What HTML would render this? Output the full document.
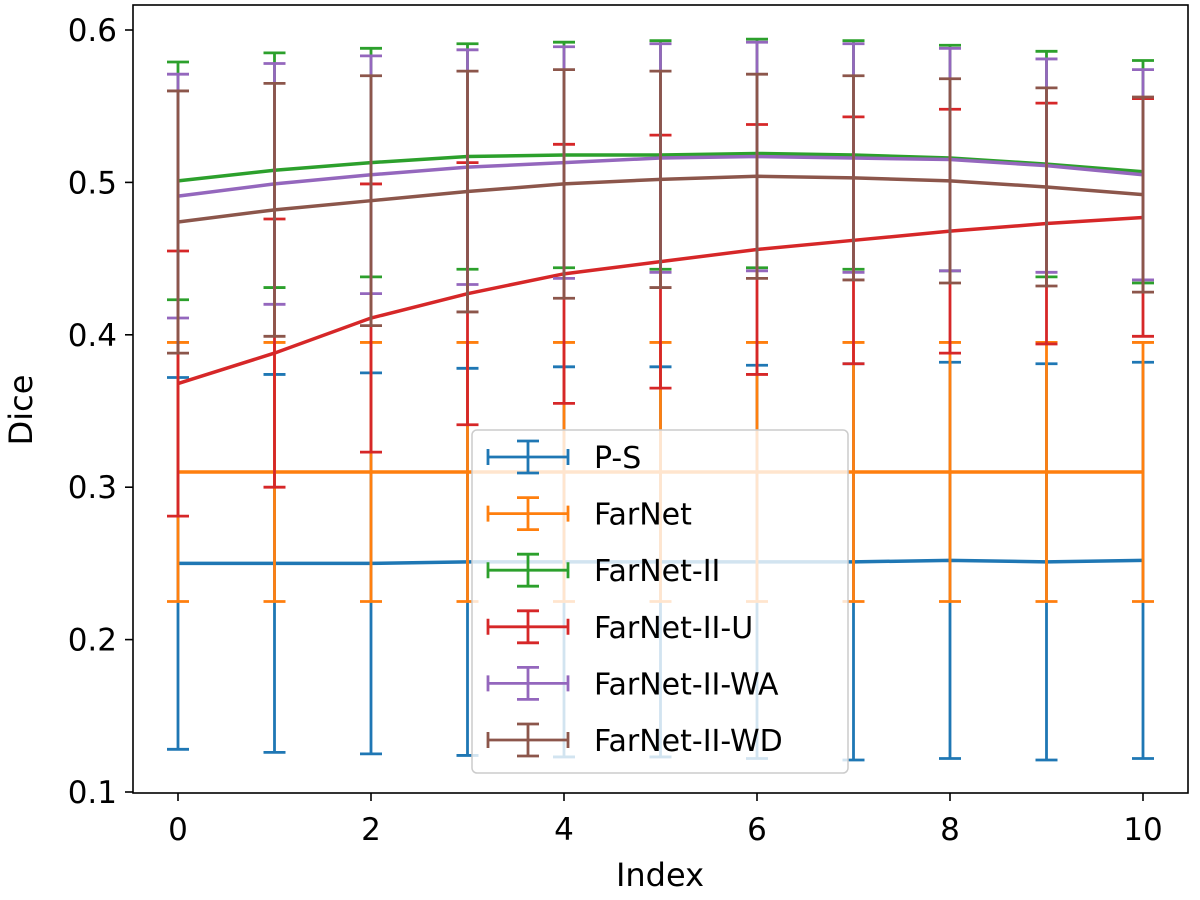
<!DOCTYPE html>
<html><head><meta charset="utf-8"><style>
html,body{margin:0;padding:0;background:#fff;}
svg text{font-family:"DejaVu Sans","Liberation Sans",sans-serif;fill:#000;}
</style></head><body>
<svg id="chart" width="1200" height="895" viewBox="0 0 1200 895" xmlns="http://www.w3.org/2000/svg">
<g id="marks"></g>
<rect x="133" y="5" width="1055" height="788" fill="none" stroke="#000" stroke-width="1.6"/>
<g id="axes"></g>
<text x="660" y="886" font-size="32" text-anchor="middle">Index</text>
<text transform="translate(32,410) rotate(-90)" font-size="32" text-anchor="middle">Dice</text>
<g id="legend"></g>
</svg>
<script>
const xIndex=[0,1,2,3,4,5,6,7,8,9,10];
const seriesNames=["P-S","FarNet","FarNet-II","FarNet-II-U","FarNet-II-WA","FarNet-II-WD"];
const seriesColors=["#1f77b4","#ff7f0e","#2ca02c","#d62728","#9467bd","#8c564b"];
const psMean=[0.250,0.250,0.250,0.251,0.251,0.251,0.251,0.251,0.252,0.251,0.252];
const psStd=[0.122,0.124,0.125,0.127,0.128,0.128,0.129,0.130,0.130,0.130,0.130];
const farnetMean=[0.310,0.310,0.310,0.310,0.310,0.310,0.310,0.310,0.310,0.310,0.310];
const farnetStd=[0.085,0.085,0.085,0.085,0.085,0.085,0.085,0.085,0.085,0.085,0.085];
const f2Mean=[0.501,0.508,0.513,0.517,0.518,0.518,0.519,0.518,0.516,0.512,0.507];
const f2Std=[0.078,0.077,0.075,0.074,0.074,0.075,0.075,0.075,0.074,0.074,0.073];
const f2uMean=[0.368,0.388,0.411,0.427,0.440,0.448,0.456,0.462,0.468,0.473,0.477];
const f2uStd=[0.087,0.088,0.088,0.086,0.085,0.083,0.082,0.081,0.080,0.079,0.078];
const f2waMean=[0.491,0.499,0.505,0.510,0.513,0.516,0.517,0.516,0.515,0.511,0.505];
const f2waStd=[0.080,0.079,0.078,0.077,0.076,0.075,0.075,0.075,0.073,0.070,0.069];
const f2wdMean=[0.474,0.482,0.488,0.494,0.499,0.502,0.504,0.503,0.501,0.497,0.492];
const f2wdStd=[0.086,0.083,0.082,0.079,0.075,0.071,0.067,0.067,0.067,0.065,0.064];
const xTicks=[0,2,4,6,8,10];
const yTicks=[0.1,0.2,0.3,0.4,0.5,0.6];

const NS="http://www.w3.org/2000/svg";
const xs=v=>178+v*96.5;
const ys=v=>792-(v-0.1)*1524;
function mk(tag,attrs,parent){const e=document.createElementNS(NS,tag);for(const k in attrs)e.setAttribute(k,attrs[k]);parent.appendChild(e);return e;}
const marks=document.getElementById('marks');
const means=[psMean,farnetMean,f2Mean,f2uMean,f2waMean,f2wdMean];
const stds=[psStd,farnetStd,f2Std,f2uStd,f2waStd,f2wdStd];
means.forEach((m,si)=>{
  const g=mk('g',{},marks);
  
  
  const c=seriesColors[si];
  xIndex.forEach((x,i)=>{
    const lo=ys(m[i]-stds[si][i]),hi=ys(m[i]+stds[si][i]),px=xs(x);
    const eb=mk('path',{d:`M${px},${lo}V${hi}M${px-11},${lo}H${px+11}M${px-11},${hi}H${px+11}`,stroke:c,'stroke-width':2.8,fill:'none'},g);
    
    
  });
  const ln=mk('polyline',{points:xIndex.map((x,i)=>xs(x)+','+ys(m[i])).join(' '),stroke:c,'stroke-width':3.5,fill:'none'},g);
  
  
});
const axes=document.getElementById('axes');
xTicks.forEach(t=>{
  const l=mk('line',{x1:xs(t),x2:xs(t),y1:793,y2:801,stroke:'#000','stroke-width':1.6},axes);
  
  const tx=mk('text',{x:xs(t),y:840,'font-size':31,'text-anchor':'middle'},axes);tx.textContent=t;
  
});
yTicks.forEach(t=>{
  const l=mk('line',{x1:125,x2:133,y1:ys(t),y2:ys(t),stroke:'#000','stroke-width':1.6},axes);
  
  const tx=mk('text',{x:117,y:ys(t)+11,'font-size':31,'text-anchor':'end'},axes);tx.textContent=t.toFixed(1);
  
});
const leg=document.getElementById('legend');
mk('rect',{x:472,y:430,width:376,height:343,rx:5,fill:'#fff','fill-opacity':0.8,stroke:'#ccc','stroke-width':1.5},leg);
seriesNames.forEach((n,i)=>{
  const y=457+i*56.6,c=seriesColors[i];
  const ent=mk('g',{},leg);
  
  
  mk('path',{d:`M488,${y}H568M528,${y-16}V${y+16}M517,${y-16}H539M517,${y+16}H539M488,${y-8}V${y+8}M568,${y-8}V${y+8}`,stroke:c,'stroke-width':2.8,fill:'none'},ent);
  const t=mk('text',{x:594,y:y+11,'font-size':30},ent);t.textContent=n;
});
</script>
</body></html>
